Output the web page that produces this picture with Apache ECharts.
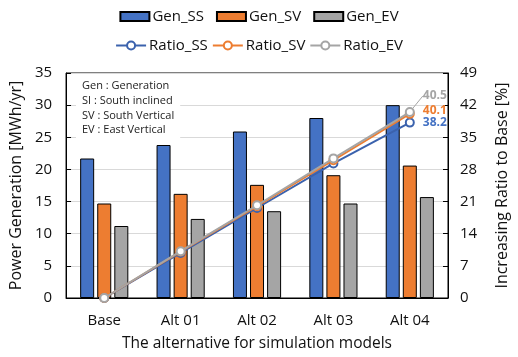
<!DOCTYPE html>
<html>
<head>
<meta charset="utf-8">
<script src="https://cdn.jsdelivr.net/npm/echarts@6/dist/echarts.min.js"></script>
<style>html,body{margin:0;padding:0;background:#fff}#c{width:518px;height:357px}</style>
</head>
<body>
<div id="c"></div>
<script>
var categories = ['Base', 'Alt 01', 'Alt 02', 'Alt 03', 'Alt 04'];
var genSS = [21.7, 23.8, 25.9, 28.0, 30.0];
var genSV = [14.7, 16.2, 17.6, 19.1, 20.6];
var genEV = [11.2, 12.3, 13.5, 14.7, 15.7];
var ratioSS = [0, 9.8, 19.6, 29.3, 38.2];
var ratioSV = [0, 10.1, 20.0, 30.0, 40.1];
var ratioEV = [0, 10.2, 20.2, 30.4, 40.5];
var leftTicks = {min: 0, max: 35, interval: 5};
var rightTicks = {min: 0, max: 49, interval: 7};
var noteLines = ['Gen : Generation', 'SI : South inclined', 'SV : South Vertical', 'EV : East Vertical'];

var FONT = "'Open Sans', 'Noto Sans', sans-serif";
var TXT = '#111';

function lastLabel(arr, color, extra) {
  return arr.map(function (v, i) {
    if (i !== arr.length - 1) return v;
    var lab = {show: true, position: 'right', distance: 8, color: color,
      fontWeight: 'bold', fontSize: 12, fontFamily: FONT, formatter: '{c}'};
    for (var k in extra) lab[k] = extra[k];
    return {value: v, label: lab};
  });
}

var chart = echarts.init(document.getElementById('c'), null, {renderer: 'canvas'});
chart.setOption({
  animation: false,
  backgroundColor: '#fff',
  textStyle: {fontFamily: FONT, color: TXT},
  title: {
    text: noteLines.join('\n'),
    left: 76, top: 77,
    padding: [2, 6, 2, 6],
    backgroundColor: '#fff',
    textStyle: {fontSize: 11, fontWeight: 'normal', color: '#222', lineHeight: 14.6, fontFamily: FONT}
  },
  legend: [
    {
      data: ['Gen_SS', 'Gen_SV', 'Gen_EV'],
      top: 4, left: 'center',
      icon: 'rect', itemWidth: 29, itemHeight: 9, itemGap: 12,
      textStyle: {fontSize: 15, color: TXT, fontFamily: FONT, padding: [0, 0, 0, -2]}
    },
    {
      data: ['Ratio_SS', 'Ratio_SV', 'Ratio_EV'],
      top: 33, left: 'center',
      itemWidth: 30, itemHeight: 10, itemGap: 4,
      textStyle: {fontSize: 15, color: TXT, fontFamily: FONT, padding: [0, 0, 0, -2]}
    }
  ],
  grid: {left: 66, right: 67, top: 73, bottom: 59, show: true, borderColor: '#000', borderWidth: 1, containLabel: false},
  xAxis: {
    type: 'category', data: categories,
    name: 'The alternative for simulation models', nameLocation: 'middle', nameGap: 38,
    nameTextStyle: {fontSize: 15.5, color: TXT, fontFamily: FONT},
    axisLine: {lineStyle: {color: '#000', width: 1}},
    axisTick: {inside: true, length: 5, lineStyle: {color: '#000'}},
    axisLabel: {fontSize: 15, color: TXT, margin: 15, fontFamily: FONT}
  },
  yAxis: [
    {
      type: 'value', min: leftTicks.min, max: leftTicks.max, interval: leftTicks.interval,
      name: 'Power Generation [MWh/yr]', nameLocation: 'middle', nameGap: 41, nameRotate: 90,
      nameTextStyle: {fontSize: 16, color: TXT, fontFamily: FONT},
      axisLine: {show: true, lineStyle: {color: '#000'}},
      axisTick: {show: true, inside: true, length: 5, lineStyle: {color: '#000'}},
      axisLabel: {fontSize: 15, color: TXT, margin: 14, fontFamily: FONT},
      splitLine: {show: true, lineStyle: {color: '#d9d9d9', width: 1}}
    },
    {
      type: 'value', min: rightTicks.min, max: rightTicks.max, interval: rightTicks.interval,
      name: 'Increasing Ratio to Base [%]', nameLocation: 'middle', nameGap: 46, nameRotate: 90,
      nameTextStyle: {fontSize: 16, color: TXT, fontFamily: FONT},
      axisLine: {show: true, lineStyle: {color: '#000'}},
      axisTick: {show: true, inside: true, length: 5, lineStyle: {color: '#000'}},
      axisLabel: {fontSize: 15, color: TXT, margin: 12, fontFamily: FONT},
      splitLine: {show: false}
    }
  ],
  series: [
    {name: 'Gen_SS', type: 'bar', data: genSS, barWidth: 14, barGap: '22%',
     itemStyle: {color: '#4472C4', borderColor: '#000', borderWidth: 1}},
    {name: 'Gen_SV', type: 'bar', data: genSV, barWidth: 14, barGap: '22%',
     itemStyle: {color: '#ED7D31', borderColor: '#000', borderWidth: 1}},
    {name: 'Gen_EV', type: 'bar', data: genEV, barWidth: 14, barGap: '22%',
     itemStyle: {color: '#A5A5A5', borderColor: '#000', borderWidth: 1}},
    {name: 'Ratio_SS', type: 'line', yAxisIndex: 1, data: lastLabel(ratioSS, '#4472C4', {}),
     symbol: 'emptyCircle', symbolSize: 8, z: 5, clip: false,
     lineStyle: {color: '#3B62AD', width: 2}, itemStyle: {color: '#3B62AD', borderWidth: 2}},
    {name: 'Ratio_SV', type: 'line', yAxisIndex: 1, data: lastLabel(ratioSV, '#ED7D31', {offset: [0, -3]}),
     symbol: 'emptyCircle', symbolSize: 8, z: 6, clip: false,
     lineStyle: {color: '#ED7D31', width: 2}, itemStyle: {color: '#ED7D31', borderWidth: 2}},
    {name: 'Ratio_EV', type: 'line', yAxisIndex: 1, data: lastLabel(ratioEV, '#A5A5A5', {}),
     symbol: 'emptyCircle', symbolSize: 8, z: 7, clip: false,
     labelLayout: function (p) { return p.dataIndex === 4 ? {dy: -16} : {}; },
     labelLine: {show: true, lineStyle: {color: '#A5A5A5', width: 1}},
     lineStyle: {color: '#A5A5A5', width: 2}, itemStyle: {color: '#A5A5A5', borderWidth: 2}}
  ]
});
</script>
</body>
</html>
